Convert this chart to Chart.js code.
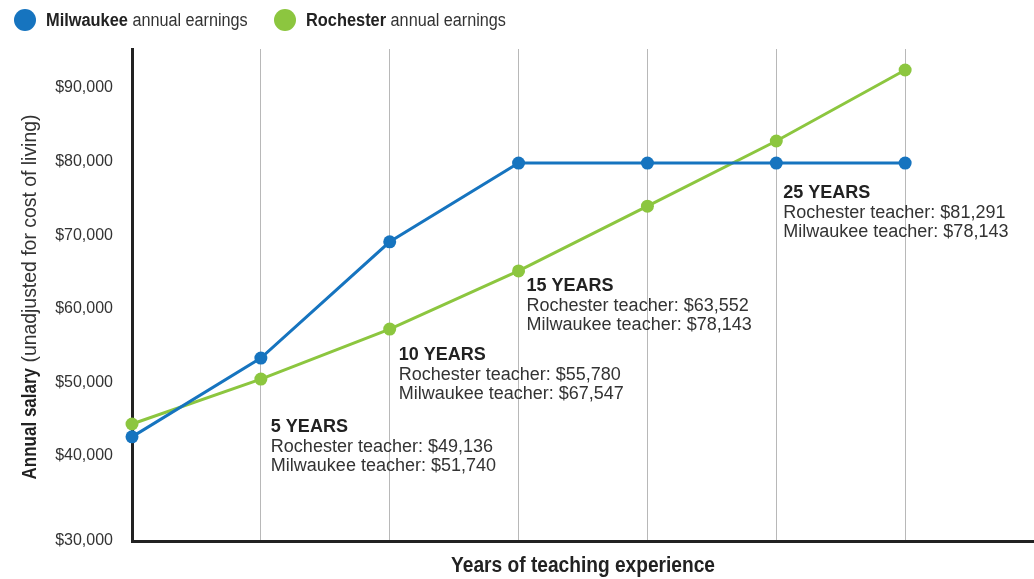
<!DOCTYPE html>
<html>
<head>
<meta charset="utf-8">
<script src="https://cdn.jsdelivr.net/npm/chart.js@4.4.1/dist/chart.umd.min.js"></script>
<style>
  html, body { margin: 0; padding: 0; background: #fff; overflow: hidden; }
  #wrap { width: 1034px; height: 579px; }
  canvas { display: block; }
</style>
</head>
<body>
<div id="wrap"><canvas id="chart" width="1034" height="579"></canvas></div>
<script>
// data
const years = [0, 5, 10, 15, 20, 25, 30];
const milwaukee = [42600, 53300, 69100, 79800, 79800, 79800, 79800];
const rochester = [44350, 50450, 57250, 65150, 73950, 82800, 92450];
const yTickValues = [30000, 40000, 50000, 60000, 70000, 80000, 90000];

// callout text
const noteYears = [5, 10, 15, 25];
const noteTitles = ['5 YEARS', '10 YEARS', '15 YEARS', '25 YEARS'];
const rochesterNotes = ['$49,136', '$55,780', '$63,552', '$81,291'];
const milwaukeeNotes = ['$51,740', '$67,547', '$78,143', '$78,143'];

const BLUE = '#1674bf';
const GREEN = '#8cc63f';
const SANS = "'Liberation Sans', Arial, sans-serif";

// where each callout's heading sits (y value) - just placement
const noteAnchors = [44000, 53700, 63100, 75700];
const noteShift = [10, 9, 8, 7];

// no condensed face installed, so squeeze the regular one
function squeezed(ctx, text, x, y, sx) {
  ctx.save();
  ctx.translate(x, y);
  ctx.scale(sx, 1);
  ctx.fillText(text, 0, 0);
  ctx.restore();
  return ctx.measureText(text).width * sx;
}

const extras = {
  id: 'extras',
  afterDraw(chart) {
    const { ctx, chartArea, scales } = chart;
    const x = scales.x, y = scales.y;
    ctx.save();

    // legend
    const legend = [
      { color: BLUE, bold: 'Milwaukee', rest: ' annual earnings', x: 25 },
      { color: GREEN, bold: 'Rochester', rest: ' annual earnings', x: 285 }
    ];
    ctx.textBaseline = 'middle';
    ctx.textAlign = 'left';
    legend.forEach(l => {
      ctx.fillStyle = l.color;
      ctx.beginPath();
      ctx.arc(l.x, 20, 11, 0, Math.PI * 2);
      ctx.fill();
      ctx.fillStyle = '#222';
      ctx.font = 'bold 18px ' + SANS;
      const w = squeezed(ctx, l.bold, l.x + 21, 21, 0.91);
      ctx.font = '18px ' + SANS;
      ctx.fillStyle = '#333';
      squeezed(ctx, l.rest, l.x + 21 + w, 21, 0.9);
    });

    // callouts
    noteYears.forEach((yr, i) => {
      const px = x.getPixelForValue(yr) + noteShift[i];
      const py = y.getPixelForValue(noteAnchors[i]);
      ctx.fillStyle = '#222';
      ctx.font = 'bold 18px ' + SANS;
      ctx.fillText(noteTitles[i], px, py);
      ctx.fillStyle = '#333';
      ctx.font = '18px ' + SANS;
      ctx.fillText('Rochester teacher: ' + rochesterNotes[i], px, py + 20);
      ctx.fillText('Milwaukee teacher: ' + milwaukeeNotes[i], px, py + 39);
    });

    // y axis title, mixed weight
    ctx.translate(30, 297);
    ctx.rotate(-Math.PI / 2);
    const b = 'Annual salary';
    const r = ' (unadjusted for cost of living)';
    ctx.font = 'bold 20px ' + SANS;
    const bw = ctx.measureText(b).width * 0.85;
    ctx.font = '20px ' + SANS;
    const rw = ctx.measureText(r).width * 0.97;
    const sx = -(bw + rw) / 2;
    ctx.fillStyle = '#222';
    ctx.font = 'bold 20px ' + SANS;
    squeezed(ctx, b, sx, 0, 0.85);
    ctx.fillStyle = '#333';
    ctx.font = '20px ' + SANS;
    squeezed(ctx, r, sx + bw, 0, 0.97);
    ctx.restore();

    // x axis title
    ctx.save();
    ctx.font = 'bold 22px ' + SANS;
    ctx.fillStyle = '#222';
    ctx.textBaseline = 'middle';
    const t = 'Years of teaching experience';
    const tw = ctx.measureText(t).width * 0.87;
    squeezed(ctx, t, (chartArea.left + chartArea.right) / 2 - tw / 2, 566, 0.87);
    ctx.restore();
  }
};

new Chart(document.getElementById('chart').getContext('2d'), {
  type: 'line',
  data: {
    labels: years,
    datasets: [
      {
        label: 'Milwaukee annual earnings',
        data: years.map((yr, i) => ({ x: yr, y: milwaukee[i] })),
        borderColor: BLUE,
        backgroundColor: BLUE,
        borderWidth: 3,
        pointRadius: 6.5,
        pointBorderWidth: 0,
        tension: 0,
        clip: false
      },
      {
        label: 'Rochester annual earnings',
        data: years.map((yr, i) => ({ x: yr, y: rochester[i] })),
        borderColor: GREEN,
        backgroundColor: GREEN,
        borderWidth: 3,
        pointRadius: 6.5,
        pointBorderWidth: 0,
        tension: 0,
        clip: false
      }
    ]
  },
  options: {
    responsive: false,
    animation: false,
    layout: { autoPadding: false, padding: { top: 49, right: 0, left: 0, bottom: 0 } },
    plugins: {
      legend: { display: false },
      tooltip: { enabled: false }
    },
    scales: {
      x: {
        type: 'linear',
        min: 0,
        max: 35,
        afterFit: s => { s.height = 38; },
        ticks: { stepSize: 5, display: false },
        grid: {
          drawTicks: false,
          lineWidth: 1,
          color: c => (c.tick.value === 0 || c.tick.value === 35) ? 'rgba(0,0,0,0)' : '#b8b8b8'
        },
        border: { color: '#222', width: 3 }
      },
      y: {
        min: 28450,
        max: 95300,
        afterFit: s => { s.width = 132; },
        // bottom label sits on the axis line, as in the original
        afterBuildTicks: s => {
          s.ticks = yTickValues.map((v, i) => ({ value: i === 0 ? s.min : v }));
        },
        ticks: {
          padding: 19,
          color: '#333',
          font: { family: SANS, size: 16 },
          callback: (v, i) => '$' + yTickValues[i].toLocaleString('en-US')
        },
        grid: { display: false, drawTicks: false },
        border: { color: '#222', width: 3 }
      }
    }
  },
  plugins: [extras]
});
</script>
</body>
</html>
